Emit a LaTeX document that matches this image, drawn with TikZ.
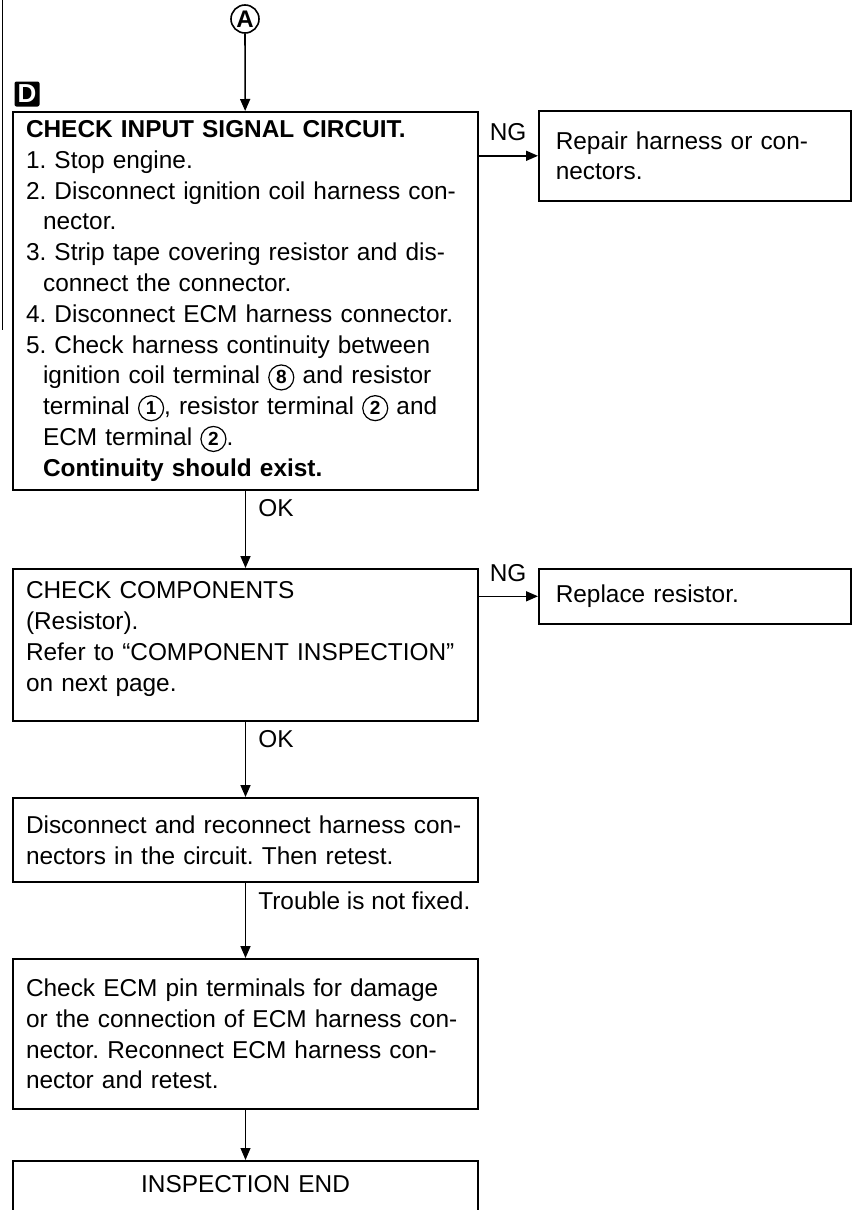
\documentclass[tikz,border=0pt]{standalone}
\usepackage{fontspec}
\setmainfont{Liberation Sans}
\usetikzlibrary{arrows.meta,positioning}

% small circled terminal numbers
\newcommand{\tnum}[1]{\tikz[baseline=(tn.base)]\node[circle,draw,line width=0.6pt,inner sep=0.5pt,minimum size=12.5pt,text width=,anchor=center,font=\bfseries\fontsize{9.5}{10}\selectfont] (tn) {#1};}
\newcommand{\ind}{\hspace*{0.7em}}

\tikzset{
  stepbox/.style={draw,line width=1pt,anchor=north west,align=left,
    inner xsep=6.5pt,text width=219.5pt,minimum width=232.5pt,
    font=\fontsize{12.2}{15.4}\selectfont\frenchspacing},
  sidebox/.style={stepbox,line width=0.8pt,inner xsep=8.5pt,
    text width=139pt,minimum width=156pt},
  flow/.style={line width=0.8pt,-{Triangle[width=5pt,length=6pt]}},
  lbl/.style={font=\fontsize{12.2}{14}\selectfont,inner sep=1pt}
}

\begin{document}
\begin{tikzpicture}[x=0.5pt,y=-0.5pt]
  \useasboundingbox (0,0) rectangle (855,1210);
  \clip (0,0) rectangle (855,1210);
  \draw[line width=0.4pt] (2,0) -- (2,330);

  \node[circle,draw,line width=0.8pt,minimum size=14pt,inner sep=0pt,font=\bfseries\fontsize{12}{12}\selectfont] (A) at (245,19) {A};
  \node[fill=black,text=white,rounded corners=1pt,minimum size=12.5pt,inner sep=0pt,font=\bfseries\fontsize{13}{13}\selectfont] (D) at (27,94) {D};

  \node[stepbox,minimum height=189pt] (chk) at (12,111) {\textbf{CHECK INPUT SIGNAL CIRCUIT.}\\
    1. Stop engine.\\
    2. Disconnect ignition coil harness con-\\
    \ind nector.\\
    3. Strip tape covering resistor and dis-\\
    \ind connect the connector.\\
    4. Disconnect ECM harness connector.\\
    5. Check harness continuity between\\
    \ind ignition coil terminal \tnum{8} and resistor\\
    \ind terminal \tnum{1}, resistor terminal \tnum{2} and\\
    \ind ECM terminal \tnum{2}.\\
    \ind\textbf{Continuity should exist.}};
  \node[sidebox,minimum height=45pt] (rep1) at (538,110) {Repair harness or con-\\nectors.};

  \node[stepbox,minimum height=76pt] (comp) at (12,568) {CHECK COMPONENTS\\
    (Resistor).\\
    Refer to “COMPONENT INSPECTION”\\
    on next page.\\[-7pt] \mbox{}};
  \node[sidebox,minimum height=27.5pt] (rep2) at (538,568) {Replace resistor.};

  \node[stepbox,minimum height=42pt] (recon) at (12,797) {Disconnect and reconnect harness con-\\
    nectors in the circuit. Then retest.};

  \node[stepbox,minimum height=75pt] (ecm) at (12,958) {Check ECM pin terminals for damage\\
    or the connection of ECM harness con-\\
    nector. Reconnect ECM harness con-\\
    nector and retest.};

  \node[stepbox,align=center,inner ysep=7pt,text height=8.5pt,text depth=20pt] (fin) at (12,1160) {INSPECTION END};

  \draw[flow] (A) -- (chk);
  \draw[flow] (chk.east |- rep1.west) -- (rep1.west) node[lbl,pos=0,above right={6pt and 4pt}] {NG};
  \draw[flow] (chk) -- (comp) node[lbl,pos=0,below right={3pt and 5pt}] {OK};
  \draw[flow] (comp.east |- rep2.west) -- (rep2.west) node[lbl,pos=0,above right={6pt and 4pt}] {NG};
  \draw[flow] (comp) -- (recon) node[lbl,pos=0,below right={3pt and 5pt}] {OK};
  \draw[flow] (recon) -- (ecm) node[lbl,pos=0,below right={3pt and 5pt}] {Trouble is not fixed.};
  \draw[flow,line width=0.5pt] (ecm) -- (fin);
\end{tikzpicture}
\end{document}
